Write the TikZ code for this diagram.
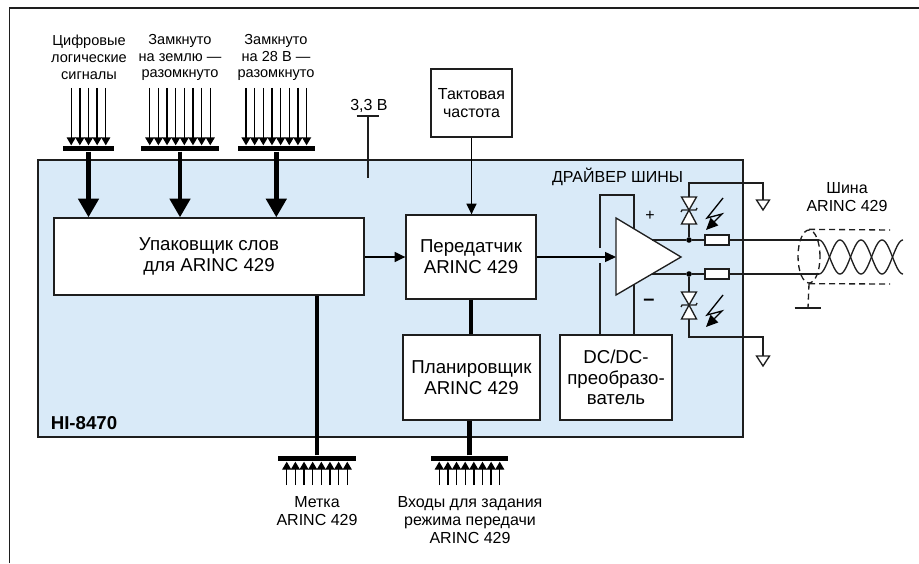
\documentclass[tikz,border=0pt]{standalone}
\usepackage{fontspec}
\setmainfont{Liberation Sans}
\usetikzlibrary{arrows.meta, shapes.geometric}
\definecolor{chipblue}{RGB}{217,234,248}
\definecolor{wiregray}{RGB}{30,30,30}

\begin{document}
\begin{tikzpicture}[
  x=0.75pt, y=-0.75pt,
  line width=1pt, draw=wiregray,
  block/.style={
    draw, fill=white, inner sep=0pt, align=center,
    font=\fontsize{14}{15.5}\selectfont
  },
  smalllabel/.style={
    inner sep=0pt, align=center,
    font=\fontsize{10.9}{12.7}\selectfont
  },
  midlabel/.style={
    inner sep=0pt, align=center,
    font=\fontsize{12}{13.5}\selectfont
  },
  busbar/.style={
    fill=black, inner sep=0pt, minimum height=3.75pt
  },
  busline/.style={
    draw=black, -{Triangle[width=6.75pt,length=6pt]}
  },
  bigarrow/.style={
    draw=black, line width=3.4pt, -{Triangle[width=15pt,length=14pt]}
  },
  thickwire/.style={
    draw=black, line width=3.4pt
  },
  smallarrow/.style={
    draw=black, -{Triangle[width=7.5pt,length=8pt]}
  },
  junction/.style={
    circle, fill=black, inner sep=0pt, minimum size=4.2pt
  },
  resistor/.style={
    draw, fill=white, inner sep=0pt, minimum width=18pt, minimum height=7.5pt
  },
  shielddash/.style={
    dashed, dash pattern=on 4.5pt off 3pt
  },
  tvs/.pic={
    \coordinate (-top) at (0,-13);
    \coordinate (-bot) at (0,14);
    \draw[fill=white] (-7.5,-13) -- (7.5,-13) -- (0,0) -- cycle;
    \draw[fill=white] (-7.5,14) -- (7.5,14) -- (0,0) -- cycle;
    \draw (-8,2) -- (-7,0) -- (7,0) -- (8,-2);
  },
  bolt/.pic={
    \draw[draw=black, -{Triangle[width=8pt,length=9pt]}] (17,-32) -- (1,-12) -- (16,-16) -- (0,0);
  },
  gndsym/.pic={
    \draw (-6.5,0) -- (6.5,0) -- (0,10) -- cycle;
  }
  ]
  \useasboundingbox (0,0) rectangle (919,563);

  \coordinate (framea) at (9.5,563);
  \coordinate (frameb) at (9.5,8);
  \coordinate (framec) at (919,8);
  \draw (framea) -- (frameb) -- (framec);

  \node[draw, fill=chipblue, minimum width=528.75pt, minimum height=207.75pt] (chip) at (390.5,298.5) {};
  \node[inner sep=0pt, font=\fontsize{14}{16}\bfseries\selectfont] (chipname) at (84,423) {HI-8470};
  \node[midlabel] (drivername) at (617.5,177) {ДРАЙВЕР ШИНЫ};

  \node[block, minimum width=232.5pt, minimum height=57.75pt] (packer) at (209,256.5) {Упаковщик слов\\для ARINC 429};
  \node[block, minimum width=97.5pt, minimum height=63pt] (transmitter) at (471,257) {Передатчик\\ARINC 429};
  \node[block, minimum width=102.75pt, minimum height=63.75pt] (scheduler) at (471.5,377.5) {Планировщик\\ARINC 429};
  \node[block, minimum width=84pt, minimum height=63.75pt] (dcdc) at (616,377.5) {DC/DC-\\преобразо-\\ватель};
  \node[block, minimum width=60.75pt, minimum height=51pt, font=\fontsize{12}{13.5}\selectfont] (clock) at (471.5,103) {Тактовая\\частота};

  \node[smalllabel] (labellogic) at (89,57.5) {Цифровые\\логические\\сигналы};
  \node[smalllabel] (labelground) at (180,57.5) {Замкнуто\\на землю —\\разомкнуто};
  \node[smalllabel] (labelpower) at (276,57.5) {Замкнуто\\на 28 В —\\разомкнуто};
  \node[midlabel] (labeltag) at (317,511) {Метка\\ARINC 429};
  \node[midlabel] (labelmode) at (470,520) {Входы для задания\\режима передачи\\ARINC 429};
  \node[midlabel] (labelbus) at (847,197) {Шина\\ARINC 429};

  \foreach \busname/\busx/\n in {logic/88.5/5, ground/180/8, power/276.3/8} {
    \node[busbar, minimum width={(\n*8.65+8)*0.75pt}] (bar\busname) at (\busx,148.5) {};
    \foreach \i in {1,...,\n} {
      \coordinate (in\busname\i) at ({\busx+(\i-(\n+1)/2)*8.65},88);
      \draw[busline] (in\busname\i) -- (in\busname\i |- bar\busname.north);
    }
  }
  \foreach \busname/\busx/\n in {tag/317/8, mode/469.5/8} {
    \node[busbar, minimum width={(\n*8.65+8)*0.75pt}] (bar\busname) at (\busx,458.5) {};
    \foreach \i in {1,...,\n} {
      \coordinate (in\busname\i) at ({\busx+(\i-(\n+1)/2)*8.65},485);
      \draw[busline] (in\busname\i) -- (in\busname\i |- bar\busname.south);
    }
  }

  \draw[bigarrow] (barlogic.south) -- (barlogic.south |- packer.north);
  \draw[bigarrow] (barground.south) -- (barground.south |- packer.north);
  \draw[bigarrow] (barpower.south) -- (barpower.south |- packer.north);
  \draw[thickwire] (bartag.north) -- (bartag.north |- packer.south);
  \draw[thickwire] (barmode.north) -- (barmode.north |- scheduler.south);
  \draw[thickwire] (transmitter.south) -- (transmitter.south |- scheduler.north);
  \draw[smallarrow] (clock.south) -- (clock.south |- transmitter.north);
  \draw[smallarrow] (packer.east |- transmitter.west) -- (transmitter.west);

  \node[midlabel] (vcclabel) at (369,106) {3,3 В};
  \coordinate (vccbar) at (368,116);
  \coordinate (vccend) at (368,178);
  \draw ([xshift=-8.5pt]vccbar) -- ([xshift=8.5pt]vccbar);
  \draw (vccbar) -- (vccend);

  \coordinate (fbleft) at (600,195);
  \coordinate (fbright) at (634,195);
  \coordinate (gapupper) at (600,248);
  \coordinate (gaplower) at (600,263);
  \draw (gapupper) -- (fbleft) -- (fbright) -- (fbright |- dcdc.north);
  \draw (gaplower) -- (gaplower |- dcdc.north);

  \coordinate (ampa) at (616,218);
  \coordinate (ampb) at (681,257);
  \coordinate (ampc) at (616,295);
  \coordinate (ampin) at (616,257);
  \coordinate (ampup) at (652,240);
  \coordinate (ampdown) at (652,274);
  \draw[fill=white] (ampa) -- (ampb) -- (ampc) -- cycle;
  \draw[smallarrow, -{Triangle[width=7.5pt,length=8.25pt]}] (transmitter.east) -- (ampin);
  \node[inner sep=0pt, font=\fontsize{12}{14}\selectfont] (plus) at (650,215.5) {+};
  \node[inner sep=0pt, font=\fontsize{15}{15}\bfseries\selectfont] (minus) at (649,302.5) {–};

  \node[junction] (dotup) at (689,240) {};
  \node[junction] (dotdown) at (689,274) {};
  \node[resistor] (resup) at (717,240) {};
  \node[resistor] (resdown) at (717,274) {};
  \coordinate (coilup) at (819,240);
  \coordinate (coildown) at (819,274);
  \draw (ampup) -- (dotup) -- (resup) -- (coilup);
  \draw (ampdown) -- (dotdown) -- (resdown) -- (coildown);

  \pic (tvsup) at (689,210) {tvs};
  \pic (tvsdown) at (689,305) {tvs};
  \pic at (706,230) {bolt};
  \pic at (706,327) {bolt};
  \coordinate (bendup) at (689,183);
  \coordinate (benddown) at (689,337);
  \coordinate (gndup) at (763,200);
  \coordinate (gnddown) at (763,356);
  \draw (dotup) -- (tvsup-bot);
  \draw (dotdown) -- (tvsdown-top);
  \draw (tvsup-top) -- (bendup) -| (gndup);
  \draw (tvsdown-bot) -- (benddown) -| (gnddown);
  \pic at (gndup) {gndsym};
  \pic at (gnddown) {gndsym};

  \draw plot[domain=819:903, samples=80, smooth] (\x,{257-17*cos(180*(\x-819)/21)});
  \draw plot[domain=819:903, samples=80, smooth] (\x,{257+17*cos(180*(\x-819)/21)});

  \node[draw, ellipse, shielddash, inner sep=0pt, minimum width=16.5pt, minimum height=39.75pt] (shield) at (809,256.5) {};
  \coordinate (screenup) at (890,230);
  \coordinate (screendown) at (890,284);
  \coordinate (earth) at (808,308);
  \draw[shielddash] (shield.north) -- (screenup);
  \draw[shielddash] (shield.south) -- (screendown);
  \draw[shielddash] (shield.south) -- (earth);
  \draw ([xshift=-10pt]earth) -- ([xshift=10pt]earth);
\end{tikzpicture}
\end{document}
